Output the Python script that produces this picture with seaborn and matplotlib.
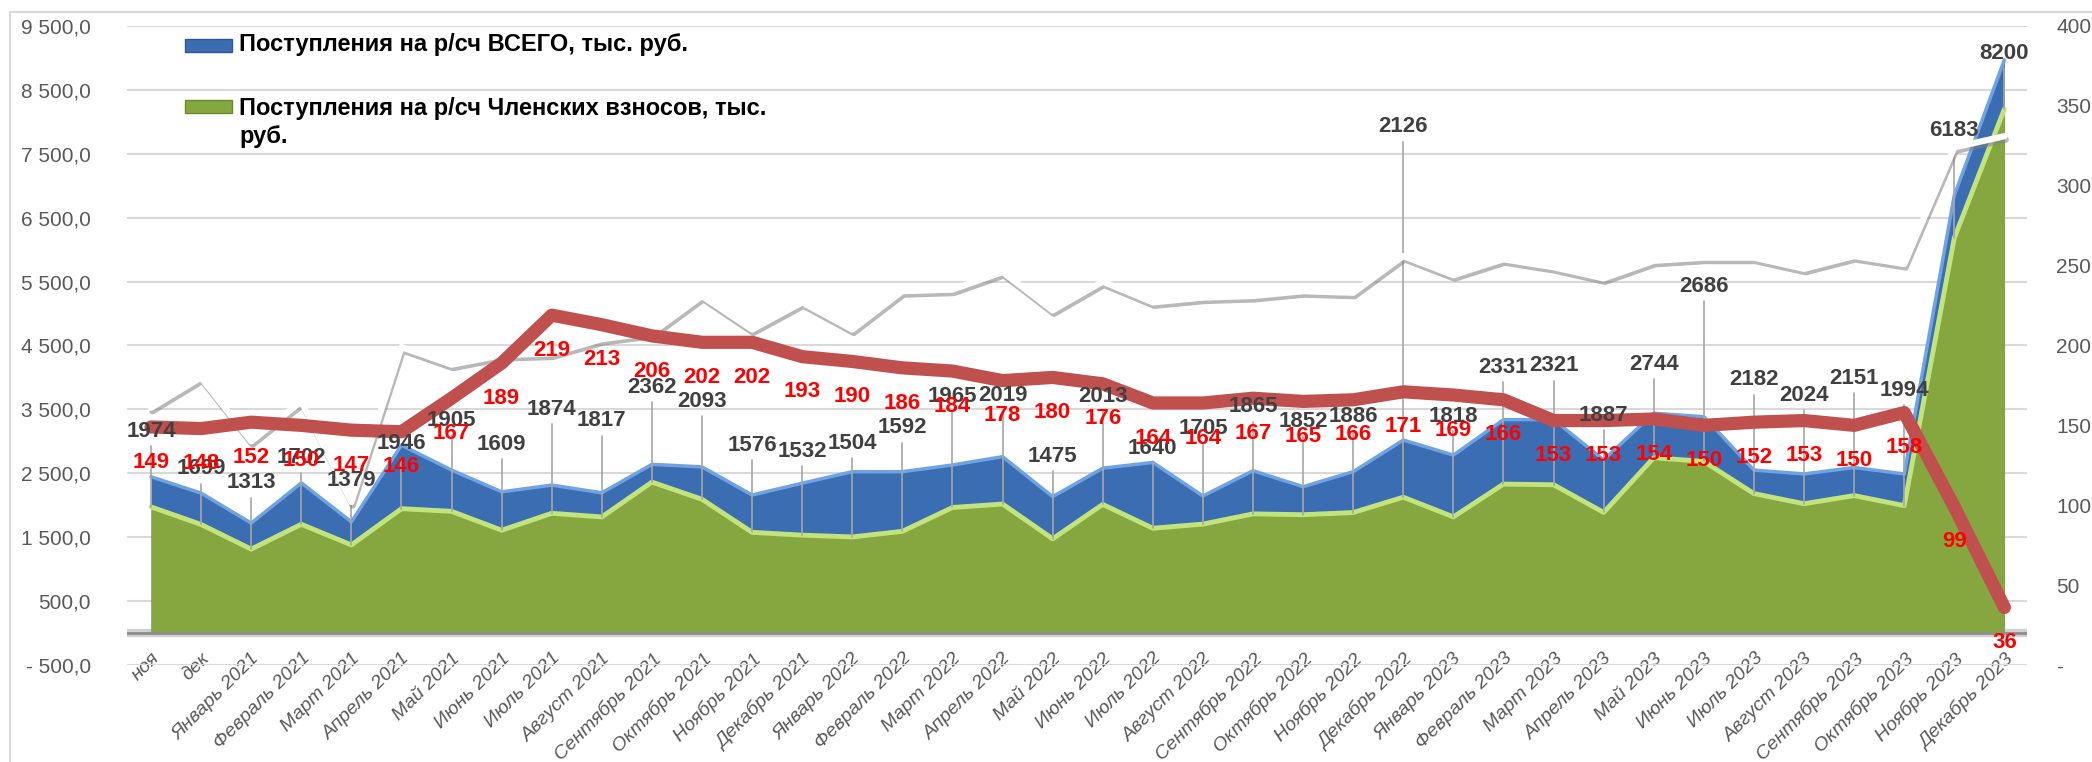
import numpy as np
import matplotlib
matplotlib.use('Agg')
import matplotlib.pyplot as plt
import matplotlib.patheffects as pe
from matplotlib.patches import Rectangle
import seaborn as sns

# categories (months)
months = ['ноя', 'дек',
          'Январь 2021', 'Февраль 2021', 'Март 2021', 'Апрель 2021', 'Май 2021', 'Июнь 2021',
          'Июль 2021', 'Август 2021', 'Сентябрь 2021', 'Октябрь 2021', 'Ноябрь 2021', 'Декабрь 2021',
          'Январь 2022', 'Февраль 2022', 'Март 2022', 'Апрель 2022', 'Май 2022', 'Июнь 2022',
          'Июль 2022', 'Август 2022', 'Сентябрь 2022', 'Октябрь 2022', 'Ноябрь 2022', 'Декабрь 2022',
          'Январь 2023', 'Февраль 2023', 'Март 2023', 'Апрель 2023', 'Май 2023', 'Июнь 2023',
          'Июль 2023', 'Август 2023', 'Сентябрь 2023', 'Октябрь 2023', 'Ноябрь 2023', 'Декабрь 2023']

# total receipts, thousand rub (blue area)
total_receipts = [2445, 2190, 1720, 2350, 1740, 2940, 2550, 2210, 2315, 2195, 2640, 2600,
                  2160, 2345, 2525, 2525, 2630, 2760, 2135, 2580, 2670, 2145, 2540, 2290,
                  2525, 3020, 2785, 3340, 3340, 2710, 3440, 3385, 2550, 2490, 2590, 2490,
                  6850, 8970]

# membership fees, thousand rub (green area, labelled)
member_fees = [1974, 1699, 1313, 1702, 1379, 1946, 1905, 1609, 1874, 1817, 2362, 2093,
               1576, 1532, 1504, 1592, 1965, 2019, 1475, 2013, 1640, 1705, 1865, 1852,
               1886, 2126, 1818, 2331, 2321, 1887, 2744, 2686, 2182, 2024, 2151, 1994,
               6183, 8200]

# right axis: white line (no labels)
white_series = [161, 180, 140, 165, 102, 199, 188, 194, 195, 204, 208, 231,
                210, 227, 210, 234, 235, 246, 222, 240, 227, 230, 231, 234,
                233, 256, 244, 254, 249, 242, 253, 255, 255, 248, 256, 251,
                324, 331]

# right axis: red line (labelled)
red_series = [149, 148, 152, 150, 147, 146, 167, 189, 219, 213, 206, 202,
              202, 193, 190, 186, 184, 178, 180, 176, 164, 164, 167, 165,
              166, 171, 169, 166, 153, 153, 154, 150, 152, 153, 150, 158,
              99, 36]

# where the grey labels were dragged to (left axis units)
fee_label_y = [3150, 2570, 2350, 2740, 2390, 2970, 3330, 2950, 3500, 3320, 3850, 3620,
               2940, 2840, 2970, 3210, 3700, 3720, 2760, 3700, 2890, 3200, 3540, 3310,
               3390, 7920, 3390, 4160, 4180, 3400, 4210, 5420, 3960, 3720, 3990, 3800,
               7870, 9070]

legend_labels = ['Поступления на р/сч ВСЕГО, тыс. руб.',
                 'Поступления на р/сч Членских взносов, тыс.\nруб.']

sns.set_theme(style='white')
plt.rcParams['font.family'] = ['Liberation Sans', 'DejaVu Sans']

fig = plt.figure(figsize=(20.92, 7.62), dpi=100)
ax = fig.add_axes([0.0607, 0.1273, 0.9082, 0.8386])
x = np.arange(len(months))

# areas
ax.fill_between(x, 0, total_receipts, color='#3A6DB1', lw=0, zorder=2)
ax.plot(x, total_receipts, color='#6FA3E3', lw=2.5, zorder=3)
ax.fill_between(x, 0, member_fees, color='#86A73F', lw=0, zorder=4)
ax.plot(x, member_fees, color='#C3E47C', lw=3.5, zorder=5)

# 3D floor
ax.axhline(0, color='#D0D0D0', lw=6, zorder=1)
ax.axhline(0, color='#8C8C8C', lw=2, zorder=6)

ax.set_xlim(-0.48, 37.45)
ax.set_ylim(-500, 9500)
ax.set_yticks(range(-500, 9501, 1000))


def left_fmt(v):
    s = f"{abs(v):,.1f}".replace(',', ' ').replace('.', ',')
    return '- ' + s if v < 0 else s


ax.set_yticklabels([left_fmt(v) for v in range(-500, 9501, 1000)])
ax.yaxis.grid(True, color='#D9D9D9', lw=1.5)
ax.set_axisbelow(True)
ax.tick_params(axis='y', length=0, pad=26, labelsize=15, labelcolor='#595959')
ax.set_xticks(x)
ax.set_xticklabels(months, rotation=45, ha='right', rotation_mode='anchor',
                   fontsize=14, color='#595959', style='italic')
ax.tick_params(axis='x', length=0, pad=-11)
for s in ax.spines.values():
    s.set_visible(False)

# right axis
ax2 = ax.twinx()
ax2.set_ylim(0, 400)
ax2.set_yticks(range(0, 401, 50))
ax2.set_yticklabels(['-'] + [str(v) for v in range(50, 401, 50)])
ax2.tick_params(axis='y', length=0, pad=21, labelsize=15, labelcolor='#595959')
ax2.grid(False)
for s in ax2.spines.values():
    s.set_visible(False)

sns.lineplot(x=x, y=white_series, ax=ax2, color='white', lw=4.5,
             path_effects=[pe.SimpleLineShadow(offset=(1, -2.5), shadow_color='#7F7F7F', alpha=0.55),
                           pe.Normal()])
sns.lineplot(x=x, y=red_series, ax=ax2, color='#C0504D', lw=9.5,
             solid_capstyle='round', solid_joinstyle='round')

# grey data labels with leader lines
for i, v in enumerate(member_fees):
    ly = fee_label_y[i]
    if ly - 230 > v:
        ax.plot([i, i], [v, ly - 230], color='#A6A6A6', lw=1.2, zorder=7)
    ax2.text(i, ly, str(v), transform=ax.transData, ha='center', va='center',
             fontsize=16, fontweight='bold', color='#404040', zorder=8)

# red data labels
for i, v in enumerate(red_series):
    ax2.text(i, v - 22, str(v), ha='center', va='center',
             fontsize=16, fontweight='bold', color='#FF0000', zorder=9)

# legend (drawn by hand to keep handle on the first text line)
W, H = 2092, 762
fig.add_artist(Rectangle((185 / W, 1 - 52 / H), 47 / W, 13 / H, transform=fig.transFigure,
                         facecolor='#3A6DB1', edgecolor='#2C5A94', lw=1))
fig.add_artist(Rectangle((185 / W, 1 - 113 / H), 47 / W, 13 / H, transform=fig.transFigure,
                         facecolor='#86A73F', edgecolor='#6A8A2A', lw=1))
fig.text(239 / W, 1 - 45 / H, legend_labels[0], ha='left', va='center',
         fontsize=17, fontweight='bold', color='black')
fig.text(239 / W, 1 - 122.5 / H, legend_labels[1], ha='left', va='center',
         fontsize=17, fontweight='bold', color='black', linespacing=1.3)

# chart border
fig.add_artist(plt.Line2D([10 / W, 10 / W], [0, 1 - 12 / H], color='#D9D9D9', lw=1.5))
fig.add_artist(plt.Line2D([10 / W, 1], [1 - 12 / H, 1 - 12 / H], color='#D9D9D9', lw=1.5))

fig.savefig('out.png', dpi=100)
